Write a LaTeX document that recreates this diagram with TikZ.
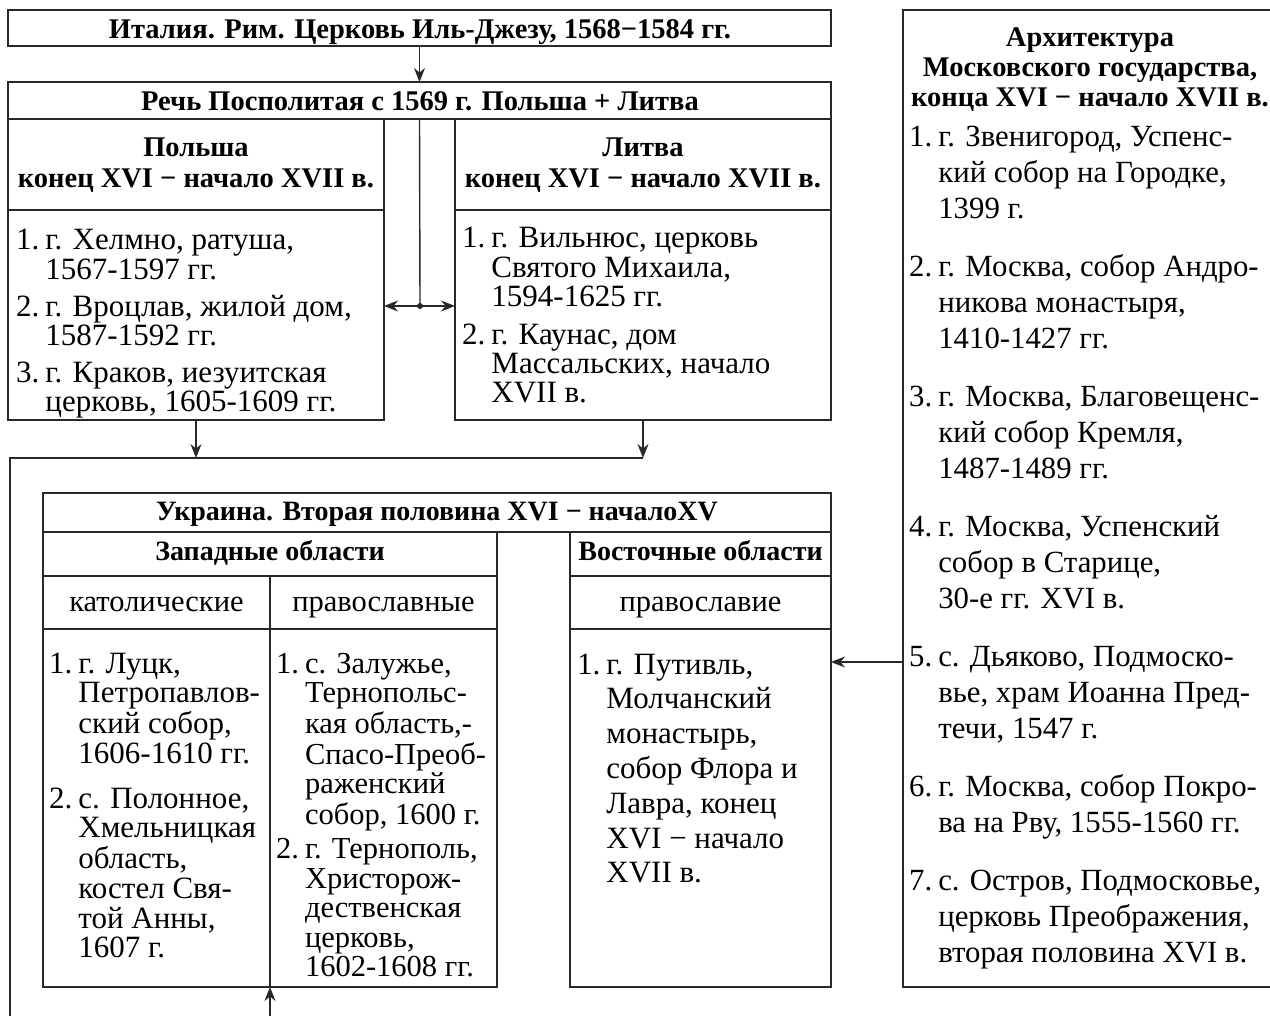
\documentclass[tikz,border=0pt]{standalone}
\usepackage{fontspec}
\setmainfont{Liberation Serif}
\usetikzlibrary{arrows.meta}
\definecolor{lc}{RGB}{40,40,40}
\tikzset{
  box/.style={draw=lc, line width=1.5pt, inner sep=0pt, outer sep=0pt, rectangle},
  sep/.style={draw=lc, line width=1.5pt},
  conn/.style={draw=lc, line width=1.4pt},
  arr/.style={conn, -{Stealth[length=14pt,width=11pt]}},
  hdr/.style={font=\bfseries\fontsize{28.5}{31}\selectfont, align=center, inner sep=0pt, anchor=base},
  uhdr/.style={font=\bfseries\fontsize{28}{30}\selectfont, inner sep=0pt, anchor=base},
  sub/.style={font=\fontsize{30.5}{30}\selectfont, inner sep=0pt, anchor=base},
  txt/.style={anchor=base west, inner sep=0pt},
}
\newcommand{\fs}[2]{\fontsize{#1}{#2}\selectfont}
\newenvironment{itemtab}{\begin{tabular}[t]{@{}l@{\hspace{6pt}}l@{}}}{\end{tabular}}
\begin{document}
\begin{tikzpicture}[x=1pt,y=-1pt]
\useasboundingbox (0,0) rectangle (1270,1016);
\fill[white] (0,0) rectangle (1270,1016);
\clip (0,0) rectangle (1270,1016);

% --- boxes ---
\node[box, minimum width=823pt, minimum height=36pt] (italy) at (419.5,28) {};
\node[box, minimum width=823pt, minimum height=37pt] (rp) at (419.5,100.5) {};
\node[box, minimum width=376pt, minimum height=301pt] (pol) at (196,269.5) {};
\node[box, minimum width=376pt, minimum height=301pt] (lith) at (643,269.5) {};
\draw[sep] (8,210) -- (384,210);
\draw[sep] (455,210) -- (831,210);

\node[box, minimum width=788pt, minimum height=39pt] (ukr) at (437,512.5) {};
\node[box, minimum width=454pt, minimum height=455pt] (west) at (270,759.5) {};
\node[box, minimum width=261pt, minimum height=455pt] (east) at (700.5,759.5) {};
\draw[sep] (43,576) -- (497,576);
\draw[sep] (43,629) -- (497,629);
\draw[sep] (270,576) -- (270,987);
\draw[sep] (570,576) -- (831,576);
\draw[sep] (570,629) -- (831,629);

\node[box, minimum width=387pt, minimum height=977pt] (mos) at (1096.5,498.5) {};

% --- headers (base = baseline of last line) ---
\node[hdr] (italyt) at (420,38.5) {Италия. Рим. Церковь Иль-Джезу, 1568−1584 гг.};
\node[hdr] (rpt) at (420,110.5) {Речь Посполитая с 1569 г. Польша + Литва};
\node[hdr] (polh) at (196,187.5) {Польша\\конец XVI − начало XVII в.};
\node[hdr] (lithh) at (643,187.5) {Литва\\конец XVI − начало XVII в.};
\node[uhdr] (ukrt) at (437,520.5) {Украина. Вторая половина XVI − началоXV};
\node[uhdr] (westh) at (270,560.5) {Западные области};
\node[uhdr] (easth) at (700.5,560.5) {Восточные области};
\node[sub] (cath) at (156.5,611) {католические};
\node[sub] (orth) at (383.5,611) {православные};
\node[sub] (easts) at (700.5,611) {православие};
\node[hdr, font=\bfseries\fontsize{28.5}{30}\selectfont] (mosh) at (1090,106.5) {Архитектура\\Московского государства,\\конца XVI − начало XVII в.};

% --- item texts ---
\node[txt, font=\fs{31}{28.5}] (poli) at (16,250) {\begin{itemtab}
1. & г. Хелмно, ратуша,\\ & 1567-1597 гг.\\[7.5pt]
2. & г. Вроцлав, жилой дом,\\ & 1587-1592 гг.\\[8pt]
3. & г. Краков, иезуитская\\ & церковь, 1605-1609 гг.
\end{itemtab}};
\node[txt, font=\fs{31}{29}] (lithi) at (462,248) {\begin{itemtab}
1. & г. Вильнюс, церковь\\ & Святого Михаила,\\ & 1594-1625 гг.\\[9pt]
2. & г. Каунас, дом\\ & Массальских, начало\\ & XVII в.
\end{itemtab}};
\node[txt, font=\fs{31}{29.5}] (cati) at (49,673) {\begin{itemtab}
1. & г. Луцк,\\ & Петропавлов-\\ & ский собор,\\ & 1606-1610 гг.\\[15.5pt]
2. & с. Полонное,\\ & Хмельницкая\\ & область,\\ & костел Свя-\\ & той Анны,\\ & 1607 г.
\end{itemtab}};
\node[txt, font=\fs{30.5}{29.6}] (orti) at (276,673) {\begin{itemtab}
1. & с. Залужье,\\ & Тернопольс-\\ & кая область,-\\ & Спасо-Преоб-\\ & раженский\\ & собор, 1600 г.\\[4.5pt]
2. & г. Тернополь,\\ & Христорож-\\ & дественская\\ & церковь,\\ & 1602-1608 гг.
\end{itemtab}};
\node[txt, font=\fs{31}{34.8}] (easti) at (577,674) {\begin{itemtab}
1. & г. Путивль,\\ & Молчанский\\ & монастырь,\\ & собор Флора и\\ & Лавра, конец\\ & XVI − начало\\ & XVII в.
\end{itemtab}};
\node[txt, font=\fs{30.8}{36}] (mosi) at (909,147) {\begin{itemtab}
1. & г. Звенигород, Успенс-\\ & кий собор на Городке,\\ & 1399 г.\\[22pt]
2. & г. Москва, собор Андро-\\ & никова монастыря,\\ & 1410-1427 гг.\\[22pt]
3. & г. Москва, Благовещенс-\\ & кий собор Кремля,\\ & 1487-1489 гг.\\[22pt]
4. & г. Москва, Успенский\\ & собор в Старице,\\ & 30-е гг. XVI в.\\[22pt]
5. & с. Дьяково, Подмоско-\\ & вье, храм Иоанна Пред-\\ & течи, 1547 г.\\[22pt]
6. & г. Москва, собор Покро-\\ & ва на Рву, 1555-1560 гг.\\[22pt]
7. & с. Остров, Подмосковье,\\ & церковь Преображения,\\ & вторая половина XVI в.
\end{itemtab}};

% --- connectors ---
\draw[arr] (italy.south) -- (rp.north);
\coordinate (dot) at (420,306);
\draw[conn] (rp.south) -- (dot);
\draw[arr] (dot) -- (dot -| pol.east);
\draw[arr] (dot) -- (dot -| lith.west);
\fill[lc] (dot) circle (3pt);
\coordinate (hl) at (10,458);
\draw[arr] (pol.south) -- (pol.south |- hl);
\draw[arr] (lith.south) -- (lith.south |- hl);
\coordinate (loopb) at (10,1040);
\draw[conn] (lith.south |- hl) -- (hl) -- (loopb) -- (loopb -| west.south);
\draw[arr] (loopb -| west.south) -- (west.south);
\coordinate (ma) at (903,662);
\draw[arr] (ma) -- (ma -| east.east);
\end{tikzpicture}
\end{document}
